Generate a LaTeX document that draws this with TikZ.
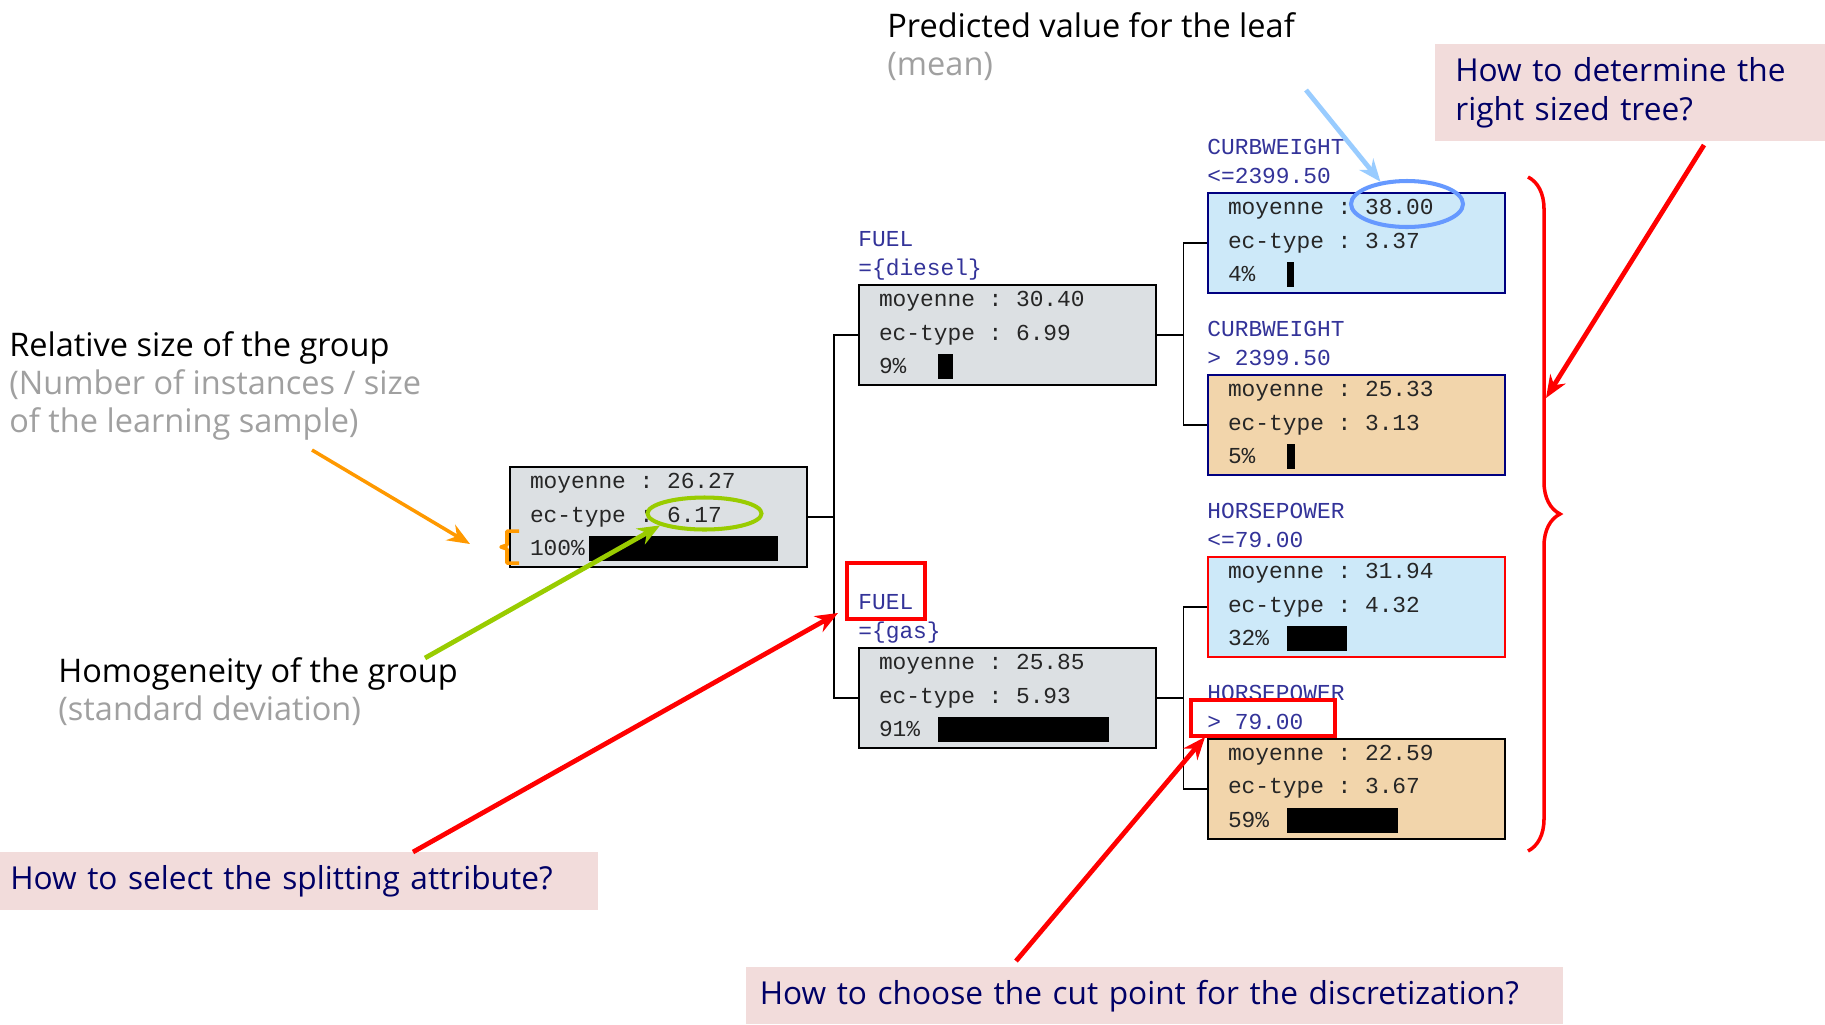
\documentclass[tikz,border=0pt]{standalone}
\usepackage{fontspec}
\setmainfont{Open Sans}
\newfontfamily\boxfont{Liberation Mono}
\usepackage{tikz}
\usetikzlibrary{positioning}
\usetikzlibrary{arrows.meta}
\usetikzlibrary{shapes.geometric}
\usetikzlibrary{decorations.pathreplacing}

\definecolor{nodegray}{HTML}{DCE0E3}
\definecolor{leafblue}{HTML}{CDE9F9}
\definecolor{leaftan}{HTML}{F2D5AB}
\definecolor{condblue}{HTML}{333399}
\definecolor{notegray}{HTML}{A0A0A0}
\definecolor{qpink}{HTML}{F2DCDB}
\definecolor{qnavy}{HTML}{000066}
\definecolor{hlgreen}{HTML}{99CC00}
\definecolor{hlblue}{HTML}{6699FF}
\definecolor{skyblue}{HTML}{99CCFF}
\definecolor{szorange}{HTML}{FF9900}

% one field of the monospaced grid, n cells of 0.6em
\newcommand{\cells}[2]{\makebox[#1\dimexpr0.6em\relax][l]{#2}}
% content of a group box: mean, std dev, percent, bar length
\newcommand{\grpinfo}[4]{\cells{8}{moyenne}\cells{2}{:}#1\\\cells{8}{ec-type}\cells{2}{:}#2\\\makebox[11.8mm][l]{#3\%}\textcolor{black}{\rule[-1mm]{#4}{5mm}}}

\tikzset{grp/.style={ % Sets the properties for each group box
draw, line width=1.1pt,
fill=nodegray,
minimum width=59.4mm, minimum height=20mm,
text width=51.4mm, inner xsep=4mm, inner ysep=0pt,
align=left, text=black!85,
font=\boxfont\fontsize{13}{19.1}\selectfont},
leafa/.style={grp, fill=leafblue, draw=blue!50!black},
leafb/.style={grp, fill=leaftan, draw=blue!50!black},
cond/.style={ % Splitting condition above a box
anchor=base west, inner sep=0pt, align=left,
text=condblue, font=\boxfont\fontsize{13}{16.5}\selectfont},
note/.style={ % base anchor sits on the last line
anchor=base west, inner sep=0pt, align=left,
font=\fontsize{18.5}{21.8}\selectfont},
question/.style={anchor=north west, fill=qpink, text=qnavy,
align=left, inner ysep=0pt,
font=\fontsize{18}{22.5}\selectfont},
link/.style={line width=0.85pt},
callout/.style={->, >={Stealth[length=4.5mm, width=3.6mm]}, line width=2.7pt},
redframe/.style={draw=red, line width=2pt}}

\begin{document}
\begin{tikzpicture}[x=0.2mm, y=-0.2mm]
\useasboundingbox (0,0) rectangle (1825,1024);

% the tree
\node[grp] (root) at (658.5,517) {\grpinfo{26.27}{6.17}{100}{37.7mm}};
\node[grp] (diesel) at (1007.5,335) {\grpinfo{30.40}{6.99}{9}{3mm}};
\node[grp] (gas) at (1007.5,698) {\grpinfo{25.85}{5.93}{91}{34.2mm}};
\node[leafa] (leaf1) at (1356.5,243) {\grpinfo{38.00}{3.37}{4}{1.4mm}};
\node[leafb, below=16mm of leaf1] (leaf2) {\grpinfo{25.33}{3.13}{5}{1.6mm}};
\node[leafa, draw=red, below=16mm of leaf2] (leaf3) {\grpinfo{31.94}{4.32}{32}{11.9mm}};
\node[leafb, draw=black, below=16mm of leaf3] (leaf4) {\grpinfo{22.59}{3.67}{59}{22.1mm}};

\node[cond] (cdiesel) at ([yshift=1.7mm]diesel.north west) {FUEL\\=\{diesel\}};
\node[cond] (cgas) at ([yshift=1.7mm]gas.north west) {FUEL\\=\{gas\}};
\node[cond] (cleaf1) at ([yshift=1.7mm]leaf1.north west) {CURBWEIGHT\\<=2399.50};
\node[cond] (cleaf2) at ([yshift=1.7mm]leaf2.north west) {CURBWEIGHT\\> 2399.50};
\node[cond] (cleaf3) at ([yshift=1.7mm]leaf3.north west) {HORSEPOWER\\<=79.00};
\node[cond] (cleaf4) at ([yshift=1.7mm]leaf4.north west) {HORSEPOWER\\> 79.00};

\coordinate (j0) at ([xshift=5.2mm]root.east);
\coordinate (j1) at ([xshift=5.3mm]diesel.east);
\coordinate (j2) at ([xshift=5.3mm]gas.east);
\draw[link] (root.east) -- (j0);
\draw[link] (diesel.west) -| (j0) |- (gas.west);
\draw[link] (diesel.east) -- (j1);
\draw[link] (leaf1.west) -| (j1) |- (leaf2.west);
\draw[link] (gas.east) -- (j2);
\draw[link] (leaf3.west) -| (j2) |- (leaf4.west);

% highlights
\node[ellipse, draw=hlblue, line width=2.3pt, minimum width=22.4mm, minimum height=9.2mm] (hl38) at (1407,204) {};
\node[ellipse, draw=hlgreen, line width=2.3pt, minimum width=22.8mm, minimum height=6.4mm] (hl617) at (704.5,513.5) {};
\draw[redframe] (847,563) rectangle (925,619);
\draw[redframe] (1191,700) rectangle (1335,736);
\draw[szorange, line width=2pt, line join=round] (519,531) -- (507,531) -- (507,545) -- (501,547) -- (507,549) -- (507,563) -- (519,563);
\draw[red, line width=2pt, decorate, decoration={brace, amplitude=6.4mm}] (1528,177) -- (1528,851);

% notes
\node[note] (pred) at (887,75.4) {Predicted value for the leaf\\{\color{notegray}(mean)}};
\node[note] (rel) at (9,432.8) {Relative size of the group\\{\color{notegray}(Number of instances / size}\\{\color{notegray}of the learning sample)}};
\node[note] (homog) at (58,720.4) {Homogeneity of the group\\{\color{notegray}(standard deviation)}};

\node[question, minimum width=119.6mm, minimum height=11.6mm, text width=115.6mm, inner xsep=2mm] (qsplit) at (0,852) {How to select the splitting attribute?};
\node[question, minimum width=163.4mm, minimum height=11.4mm, text width=158mm, inner xsep=2.7mm] (qcut) at (746,967) {How to choose the cut point for the discretization?};
\node[question, minimum width=78mm, minimum height=19.4mm, text width=70mm, inner xsep=4mm] (qsize) at (1435,44) {How to determine the\\right sized tree?};

% arrows
\coordinate (pb) at (1306,90);
\coordinate (gh) at (425,658);
\coordinate (os) at (312,450);
\coordinate (szmark) at (470,544);
\coordinate (qa) at (413,852);
\coordinate (fa) at (838,613);
\coordinate (qc) at (1016,961);
\coordinate (ca) at (1205,737);
\coordinate (qs) at (1704,145);
\coordinate (br) at (1546,398);
\draw[callout, skyblue] (pb) -- (hl38.140);
\draw[callout, hlgreen] (gh) -- (hl617.195);
\draw[callout, szorange, line width=2pt] (os) -- (szmark);
\draw[callout, red] (qa) -- (fa);
\draw[callout, red] (qc) -- (ca);
\draw[callout, red] (qs) -- (br);
\end{tikzpicture}
\end{document}
